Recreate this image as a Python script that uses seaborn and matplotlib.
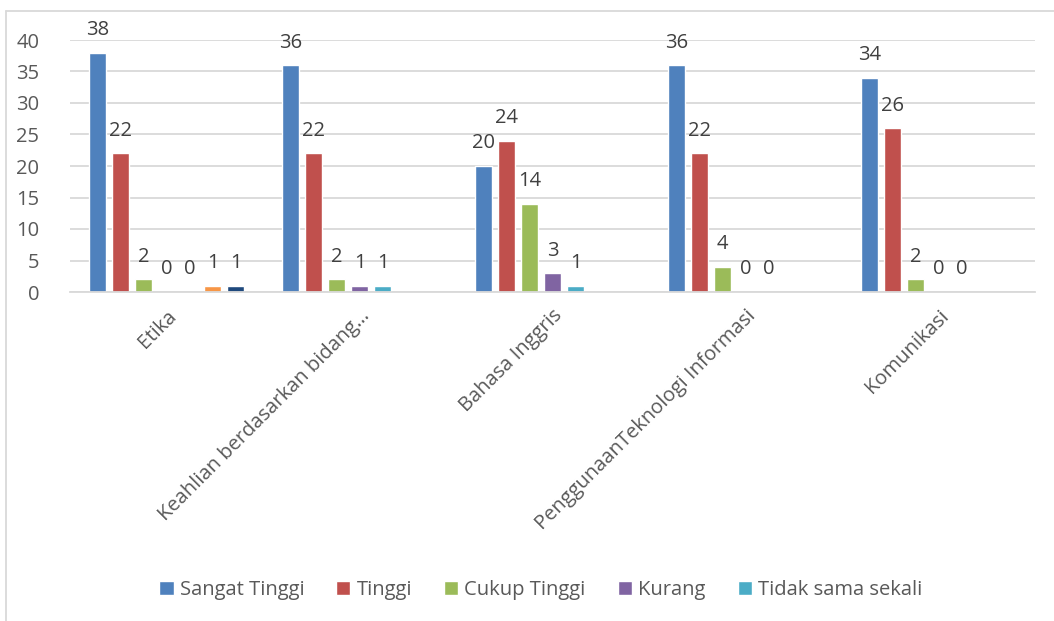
import numpy as np
import pandas as pd
import matplotlib
matplotlib.use('Agg')
import matplotlib.pyplot as plt
import seaborn as sns
from matplotlib.patches import Patch

categories = ['Etika', 'Keahlian berdasarkan bidang…', 'Bahasa Inggris',
              'PenggunaanTeknologi Informasi', 'Komunikasi']
series = ['Sangat Tinggi', 'Tinggi', 'Cukup Tinggi', 'Kurang', 'Tidak sama sekali',
          'Seri 6', 'Seri 7']
sangat_tinggi = [38, 36, 20, 36, 34]
tinggi = [22, 22, 24, 22, 26]
cukup_tinggi = [2, 2, 14, 4, 2]
kurang = [0, 1, 3, 0, 0]
tidak_sama_sekali = [0, 1, 1, 0, 0]
seri_6 = [1, None, None, None, None]
seri_7 = [1, None, None, None, None]
colors = ['#4F81BD', '#C0504D', '#9BBB59', '#8064A2', '#4BACC6', '#F79646', '#1F497D']

rows = []
for s, vals in zip(series, [sangat_tinggi, tinggi, cukup_tinggi, kurang,
                            tidak_sama_sekali, seri_6, seri_7]):
    for c, v in zip(categories, vals):
        if v is not None:
            rows.append({'kategori': c, 'seri': s, 'nilai': v})
df = pd.DataFrame(rows)

sns.set_style('white')
plt.rcParams['font.family'] = ['Open Sans', 'DejaVu Sans']

fig = plt.figure(figsize=(10.54, 6.21), dpi=100)
ax = fig.add_axes([70 / 1054, 1 - 292 / 621, 965 / 1054, 252 / 621])

sns.barplot(data=df, x='kategori', y='nilai', hue='seri', order=categories,
            hue_order=series, palette=colors, width=0.835, gap=0.25,
            saturation=1, errorbar=None, legend=False, ax=ax)

for cont in ax.containers:
    ax.bar_label(cont, fmt='%d', padding=9, fontsize=14.5, color='#404040', clip_on=False)

ax.set_ylim(0, 40)
ax.set_yticks(range(0, 41, 5))
ax.yaxis.grid(True, color='#D9D9D9', linewidth=1.3)
ax.set_axisbelow(True)
for sp in ['left', 'right', 'top']:
    ax.spines[sp].set_visible(False)
ax.spines['bottom'].set_color('#D9D9D9')
ax.spines['bottom'].set_linewidth(1.3)
ax.set_xlabel('')
ax.set_ylabel('')
ax.tick_params(axis='y', labelsize=14.5, labelcolor='#595959', length=0, pad=22)
ax.tick_params(axis='x', labelsize=14.5, labelcolor='#595959', length=0, pad=10)
plt.setp(ax.get_xticklabels(), rotation=45, ha='right', rotation_mode='anchor')

handles = [Patch(facecolor=colors[i], label=series[i]) for i in range(5)]
fig.legend(handles=handles, loc='center', bbox_to_anchor=(0.513, 1 - 590 / 621),
           ncol=5, frameon=False, fontsize=14.5, labelcolor='#595959',
           handlelength=0.7, handleheight=0.7, handletextpad=0.3, columnspacing=1.6)

# chart border
fig.add_artist(plt.Line2D([6 / 1054, 6 / 1054], [0, 1 - 11 / 621],
                          transform=fig.transFigure, color='#D9D9D9', linewidth=1.3))
fig.add_artist(plt.Line2D([6 / 1054, 1], [1 - 11 / 621, 1 - 11 / 621],
                          transform=fig.transFigure, color='#D9D9D9', linewidth=1.3))

fig.savefig('out.png', dpi=100)
